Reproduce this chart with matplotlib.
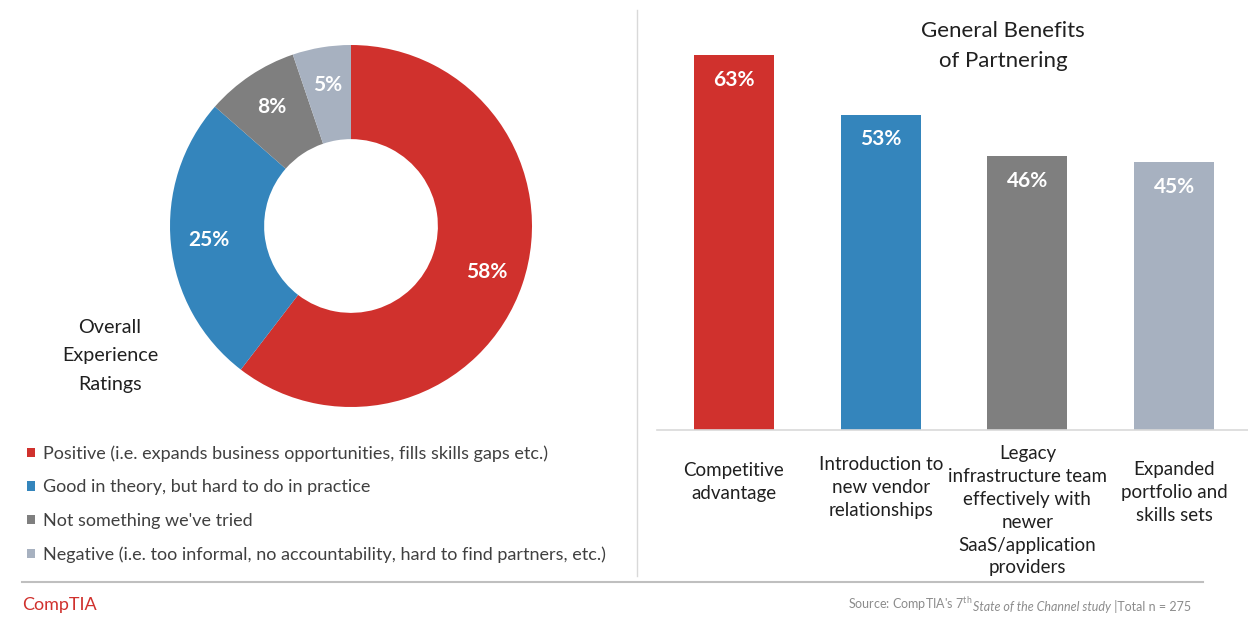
import matplotlib.pyplot as plt
from matplotlib.patches import Patch
from matplotlib.lines import Line2D

plt.rcParams['font.family'] = ['Lato', 'DejaVu Sans']

# --- data ---
rating_labels = [
    "Positive (i.e. expands business opportunities, fills skills gaps etc.)",
    "Good in theory, but hard to do in practice",
    "Not something we've tried",
    "Negative (i.e. too informal, no accountability, hard to find partners, etc.)",
]
rating_values = [58, 25, 8, 5]

benefit_labels = [
    "Competitive\nadvantage",
    "Introduction to\nnew vendor\nrelationships",
    "Legacy\ninfrastructure team\neffectively with\nnewer\nSaaS/application\nproviders",
    "Expanded\nportfolio and\nskills sets",
]
benefit_values = [63, 53, 46, 45]

colors = ["#D0312D", "#3485BC", "#7F7F7F", "#A7B1C0"]
text_grey = "#404040"

W, H = 1248, 617
fig = plt.figure(figsize=(W / 100, H / 100), dpi=100)


def box(x0, y0, x1, y1):
    # pixel box (top-left origin) -> figure fraction
    return [x0 / W, 1 - y1 / H, (x1 - x0) / W, (y1 - y0) / H]


# --- donut ---
ax1 = fig.add_axes(box(170, 43, 532, 409))
total = sum(rating_values)
wedges, _, autotexts = ax1.pie(
    rating_values, colors=colors, startangle=90, counterclock=False,
    radius=1.0, wedgeprops=dict(width=0.52, edgecolor="none"),
    autopct=lambda p: f"{p * total / 100:.0f}%", pctdistance=0.79,
)
for t in autotexts:
    t.set_color("white")
    t.set_fontsize(15)
    t.set_fontweight("bold")
ax1.set_xlim(-1, 1)
ax1.set_ylim(-1, 1)
ax1.set_aspect("equal")

fig.text(110 / W, 1 - 356 / H, "Overall\nExperience\nRatings", ha="center", va="center",
         fontsize=14.2, color="#202020", linespacing=1.84)

fig.legend(
    handles=[Patch(facecolor=c, edgecolor="none") for c in colors],
    labels=rating_labels, loc="upper left", bbox_to_anchor=(20 / W, 1 - 438 / H),
    frameon=False, fontsize=13, handlelength=0.45, handleheight=0.45,
    handletextpad=0.4, labelspacing=0.97, borderaxespad=0, labelcolor=text_grey,
)

# --- bars ---
ax2 = fig.add_axes(box(657, 10, 1248, 430))
x = range(len(benefit_values))
bars = ax2.bar(x, benefit_values, width=0.545, color=colors)
ax2.set_xlim(-0.525, 3.504)
ax2.set_ylim(0, 70.6)
for b, v in zip(bars, benefit_values):
    ax2.text(b.get_x() + b.get_width() / 2, v - 4.1, f"{v}%", ha="center", va="center",
             color="white", fontsize=15, fontweight="bold")
for s in ["top", "right", "left"]:
    ax2.spines[s].set_visible(False)
ax2.spines["bottom"].set_color("#D9D9D9")
ax2.spines["bottom"].set_linewidth(1.2)
ax2.set_xticks([])
ax2.set_yticks([])

label_tops = [462, 456, 445, 461]  # pixel y of first text line
for i, (lab, top) in enumerate(zip(benefit_labels, label_tops)):
    fig.text((734 + i * 146.7) / W, 1 - top / H, lab, ha="center", va="top",
             fontsize=13.5, color="#202020", linespacing=1.42)

fig.text(1003 / W, 1 - 46 / H, "General Benefits\nof Partnering", ha="center", va="center",
         fontsize=16, color="#202020", linespacing=1.62)

# --- frame lines ---
fig.add_artist(Line2D([637 / W, 637 / W], [1 - 10 / H, 1 - 576 / H], color="#D9D9D9", lw=1))
fig.add_artist(Line2D([22 / W, 1203 / W], [1 - 582 / H, 1 - 582 / H], color="#BFBFBF", lw=1.5))

# --- footer ---
fig.text(22 / W, 1 - 605 / H, "CompTIA", ha="left", va="center", fontsize=13,
         color="#D0312D")
t1 = fig.text(848 / W, 1 - 609 / H, "Source: CompTIA's 7$^{\\mathregular{th}}$ ", ha="left",
              va="baseline", fontsize=9, color="#8C8C8C")
t2 = fig.add_artist(plt.Annotation("State of the Channel study", xy=(1, 0), xycoords=t1,
                                   va="bottom", fontsize=9, color="#8C8C8C", style="italic"))
fig.add_artist(plt.Annotation(" |Total n = 275", xy=(1, 0), xycoords=t2, va="bottom",
                              fontsize=9, color="#8C8C8C"))

fig.savefig("out.png", dpi=100)
